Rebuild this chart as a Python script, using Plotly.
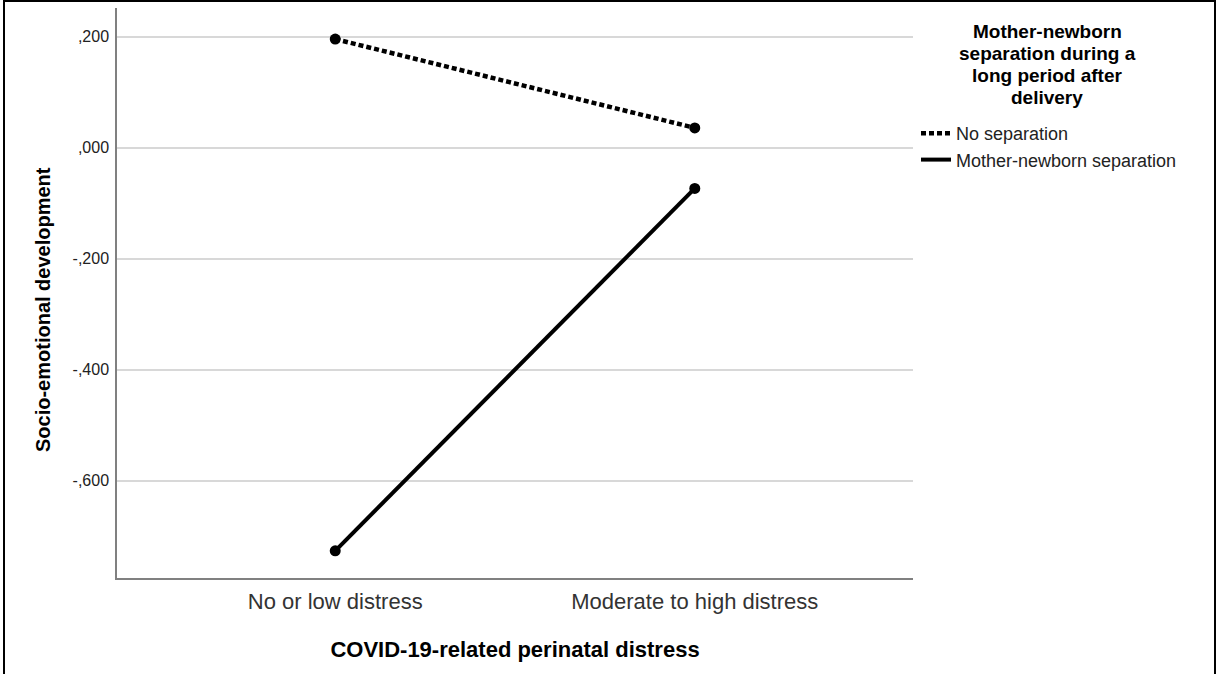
import plotly.graph_objects as go

categories = ["No or low distress", "Moderate to high distress"]
no_separation = [0.196, 0.036]
separation = [-0.726, -0.073]
series_names = ["No separation", "Mother-newborn separation"]
legend_title_lines = ["Mother-newborn", "separation during a", "long period after", "delivery"]
y_tickvals = [-0.6, -0.4, -0.2, 0.0, 0.2]
y_ticktext = ["-,600", "-,400", "-,200", ",000", ",200"]

W, H = 1218, 674
L, R, T, B = 117, 305, 8, 96
pw, ph = W - L - R, H - T - B

FONT = "Liberation Sans, Arial, sans-serif"

fig = go.Figure()
styles = [dict(color="black", width=4.5, dash="5px,3px"),
          dict(color="black", width=4)]
for name, vals, st in zip(series_names, [no_separation, separation], styles):
    fig.add_trace(go.Scatter(x=categories, y=vals, name=name, mode="lines",
                             line=st, showlegend=True))
    fig.add_trace(go.Scatter(x=categories, y=vals, name=name, mode="markers",
                             marker=dict(color="black", size=11), showlegend=False,
                             hoverinfo="skip"))

# outer frame
fig.add_shape(type="rect", xref="paper", yref="paper",
              x0=(4 - L) / pw, x1=(1215 - L) / pw,
              y0=-(B + 20) / ph, y1=1 + (T - 1) / ph,
              line=dict(color="black", width=2), fillcolor="rgba(0,0,0,0)")

# legend title lines
for i, txt in enumerate(legend_title_lines):
    fig.add_annotation(xref="paper", yref="paper", x=(1047 - L) / pw,
                       y=1 - (31.5 + 22 * i - T) / ph,
                       xanchor="center", yanchor="middle", showarrow=False,
                       text="<b>" + txt + "</b>", borderpad=0,
                       font=dict(family=FONT, size=19, color="black"))

# y-axis title (placed like the reference, slightly below the axis centre)
fig.add_annotation(xref="paper", yref="paper", x=(43 - L) / pw, y=1 - (310 - T) / ph,
                   xanchor="center", yanchor="middle", showarrow=False, textangle=-90,
                   text="<b>Socio-emotional development</b>",
                   font=dict(family=FONT, size=20, color="black"))

fig.update_layout(
    width=W, height=H, margin=dict(l=L, r=R, t=T, b=B, autoexpand=False),
    plot_bgcolor="white", paper_bgcolor="white",
    font=dict(family=FONT, color="black"),
    showlegend=True,
    legend=dict(x=(916 - L) / pw, xanchor="left", y=1 - (115 - T) / ph, yanchor="top",
                font=dict(size=18, color="#222"), bgcolor="rgba(0,0,0,0)",
                tracegroupgap=0, itemwidth=30),
    xaxis=dict(range=[-0.607, 1.607], showgrid=False, showline=True,
               linecolor="#808080", linewidth=1.5, ticks="",
               tickfont=dict(size=22, color="#333"), ticklabelstandoff=3,
               title=dict(text="<b>COVID-19-related perinatal distress</b>",
                          font=dict(size=22, color="black"), standoff=28)),
    yaxis=dict(range=[-0.775, 0.252], tickvals=y_tickvals, ticktext=y_ticktext,
               showgrid=True, gridcolor="#d8d8d8", gridwidth=1.5,
               showline=True, linecolor="#808080", linewidth=1.5, zeroline=False,
               ticks="", tickfont=dict(size=16, color="#222"), ticklabelstandoff=3),
)

fig.write_html("out.html", config={"displayModeBar": False},
               post_script="document.body.style.margin='0';")
